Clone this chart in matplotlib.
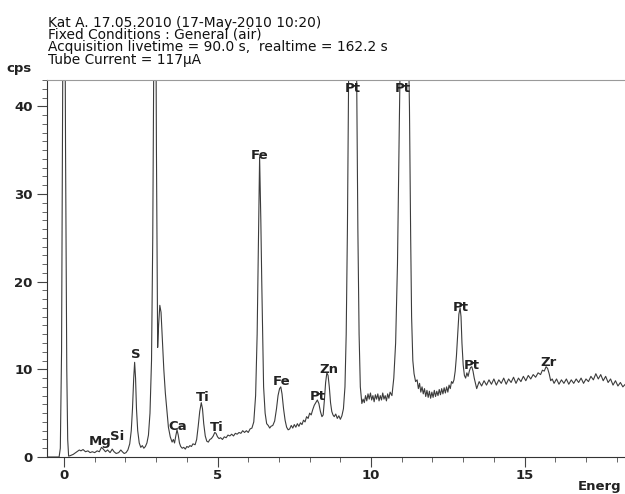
import matplotlib.pyplot as plt
from matplotlib.ticker import MultipleLocator

energy = [
    -0.55, -0.16, -0.12, -0.08, -0.05, 0.0, 0.05, 0.09, 0.12, 0.15,
    0.2, 0.3, 0.4, 0.5, 0.55, 0.62, 0.7, 0.78, 0.85, 0.92,
    1.0, 1.08, 1.15, 1.22, 1.28, 1.35, 1.42, 1.5, 1.57, 1.63,
    1.7, 1.78, 1.85, 1.9, 1.96, 2.02, 2.08,
    2.14, 2.19, 2.23, 2.27, 2.3, 2.33, 2.36, 2.4, 2.45, 2.5,
    2.55, 2.6, 2.65, 2.7,
    2.75, 2.8, 2.85, 2.89, 2.93, 2.97, 3.01, 3.05, 3.08, 3.12,
    3.16, 3.2, 3.25, 3.3, 3.35, 3.4, 3.46, 3.52,
    3.56, 3.6, 3.64, 3.68, 3.72, 3.76, 3.8, 3.85, 3.9, 3.95,
    4.0, 4.05, 4.1, 4.15, 4.2, 4.27, 4.32, 4.37, 4.42, 4.47,
    4.51, 4.55, 4.6, 4.65, 4.7, 4.75, 4.8, 4.86, 4.91, 4.95,
    5.0, 5.05, 5.1, 5.16, 5.22, 5.28, 5.34, 5.4, 5.46, 5.52,
    5.58, 5.64, 5.7, 5.76, 5.82, 5.88, 5.94, 6.0, 6.06, 6.12,
    6.18, 6.24, 6.29, 6.33, 6.37, 6.41, 6.44, 6.5, 6.55, 6.6,
    6.65, 6.7, 6.74, 6.8, 6.86, 6.92, 6.97, 7.02, 7.06, 7.1,
    7.15, 7.2, 7.25, 7.3, 7.35, 7.4, 7.45, 7.5, 7.55, 7.6,
    7.65, 7.7, 7.75, 7.8, 7.85, 7.9, 7.95, 8.0, 8.05, 8.1,
    8.15, 8.2, 8.25, 8.3, 8.35, 8.4, 8.44, 8.48, 8.52, 8.56,
    8.6, 8.64, 8.68, 8.72, 8.76, 8.8, 8.85, 8.9, 8.95, 9.0,
    9.05, 9.1, 9.15, 9.19, 9.23, 9.27, 9.33, 9.4, 9.47, 9.53,
    9.57, 9.61, 9.65, 9.7,
    9.74, 9.78, 9.82, 9.86, 9.9, 9.94, 9.98, 10.02, 10.06, 10.1,
    10.14, 10.18, 10.22, 10.26, 10.3, 10.34, 10.38, 10.42, 10.46, 10.5,
    10.54, 10.58, 10.62,
    10.68, 10.74, 10.8, 10.86, 10.92, 10.97, 11.07, 11.18, 11.25, 11.29,
    11.32, 11.36, 11.4, 11.45,
    11.5, 11.54, 11.58, 11.62, 11.66, 11.7, 11.74, 11.78, 11.82, 11.86,
    11.9, 11.94, 11.98, 12.02, 12.06, 12.1, 12.14, 12.18, 12.22, 12.26,
    12.3, 12.34, 12.38, 12.42, 12.46, 12.5, 12.54, 12.58, 12.62, 12.66,
    12.7, 12.74, 12.78, 12.82, 12.86, 12.9, 12.93, 12.96, 13.0, 13.04,
    13.08, 13.12, 13.16, 13.2, 13.24, 13.28, 13.32, 13.36, 13.4, 13.44,
    13.48,
    13.52, 13.6, 13.68, 13.76, 13.84, 13.92, 14.0, 14.08, 14.16, 14.24,
    14.32, 14.4, 14.48, 14.56, 14.64, 14.72, 14.8, 14.88, 14.96, 15.04,
    15.12, 15.2, 15.28, 15.36, 15.44, 15.52, 15.58, 15.64, 15.7, 15.75,
    15.8, 15.85, 15.9, 15.96, 16.04, 16.12, 16.2, 16.28, 16.36, 16.44,
    16.52, 16.6, 16.68, 16.76, 16.84, 16.92, 17.0, 17.08, 17.16, 17.24,
    17.32, 17.4, 17.48, 17.56, 17.64, 17.72, 17.8, 17.88, 17.96, 18.04,
    18.12, 18.2, 18.28,
]
cps = [
    0.0, 0.0, 1.0, 12, 35, 80, 35, 10, 2.0, 0.1,
    0.15, 0.3, 0.55, 0.8, 0.7, 0.85, 0.6, 0.7, 0.5, 0.6,
    0.5, 0.7, 0.6, 1.1, 0.9, 0.6, 0.8, 0.5, 0.9, 0.6,
    0.4, 0.5, 0.8, 0.6, 0.4, 0.5, 0.8,
    1.5, 3.0, 5.5, 9.0, 10.8, 9.0, 5.5, 3.0, 1.6, 1.1,
    1.3, 1.0, 1.2, 1.6,
    2.5, 5.0, 11, 25, 50, 70, 35, 12.5, 15, 17.3,
    16.5, 13.5, 10, 7.3, 5.3, 3.4, 2.3, 1.7,
    2.0, 1.6, 2.4, 3.1, 2.5, 1.6, 1.2, 1.0, 1.1, 0.9,
    1.2, 1.1, 1.3, 1.2, 1.5, 1.4, 2.0, 3.5, 5.2, 6.2,
    5.5, 3.8, 2.4, 1.8, 1.7, 2.0, 2.1, 2.4, 2.8, 2.7,
    2.3, 2.1, 2.2, 2.0, 2.3, 2.2, 2.5, 2.4, 2.6, 2.4,
    2.7, 2.6, 2.8, 2.7, 3.0, 2.8, 3.0, 2.8, 3.2, 3.3,
    4.0, 7.0, 14, 24, 34.2, 27, 20, 8.0, 5.0, 3.8,
    3.6, 3.3, 3.5, 3.6, 4.1, 5.5, 7.0, 7.8, 8.0, 7.2,
    5.5, 4.2, 3.4, 3.1, 3.2, 3.6, 3.3, 3.7, 3.4, 3.8,
    3.5, 3.9, 3.7, 4.2, 4.0, 4.6, 4.4, 5.0, 4.8, 5.4,
    5.9, 6.2, 6.5, 6.1, 5.2, 4.6, 4.8, 6.5, 8.5, 9.6,
    9.3, 8.0, 6.2, 5.2, 4.8, 4.6, 4.9, 4.4, 4.7, 4.3,
    4.7, 5.5, 8.0, 14, 26, 44, 70, 85, 70, 44,
    26, 14, 8.0, 6.1,
    6.6, 6.2, 7.0, 6.4, 7.2, 6.6, 7.3, 6.5, 7.0, 6.3,
    7.1, 6.6, 7.2, 6.4, 7.0, 6.5, 7.3, 6.6, 7.0, 6.4,
    7.2, 6.7, 7.4,
    7.0, 9.0, 13, 22, 38, 50, 85, 55, 40, 25,
    16, 11, 9.5, 8.6,
    8.8, 7.8, 8.4, 7.4, 8.0, 7.2, 7.8, 6.9, 7.6, 6.8,
    7.5, 6.7, 7.4, 6.8, 7.6, 6.9, 7.5, 7.0, 7.7, 7.1,
    7.8, 7.2, 7.9, 7.3, 8.0, 7.4, 8.2, 7.8, 8.6, 8.4,
    8.8, 9.8, 11.5, 14, 16.3, 17.0, 16, 13, 10.5, 9.3,
    9.0, 9.6, 9.2, 9.8, 10.2, 10.3, 9.8, 9.0, 8.4, 7.8,
    8.2,
    8.6, 8.1, 8.7, 8.2, 8.8, 8.3, 8.9, 8.2, 8.8, 8.4,
    9.0, 8.3, 8.9, 8.5, 9.1, 8.4, 9.0, 8.6, 9.2, 8.7,
    9.3, 8.9, 9.4, 9.1, 9.6, 9.4, 9.9, 9.8, 10.3, 10.1,
    9.5, 8.7, 8.9, 8.4, 8.9, 8.3, 8.8, 8.4, 8.9, 8.3,
    8.8, 8.4, 8.9, 8.5, 9.0, 8.4, 8.9, 8.6, 9.2, 8.8,
    9.5, 8.9, 9.4, 8.7, 9.2, 8.5, 8.9, 8.2, 8.7, 8.1,
    8.5, 8.0, 8.3,
]

# Peak-Beschriftungen
peak_names = ["Mg", "Si", "S", "Ca", "Ti", "Ti", "Fe", "Fe", "Pt", "Zn",
              "Pt", "Pt", "Pt", "Pt", "Zr"]
peak_energy = [1.17, 1.74, 2.35, 3.69, 4.53, 4.97, 6.38, 7.07, 8.26, 8.63,
               9.41, 11.04, 12.93, 13.27, 15.77]
peak_cps = [1.75, 2.3, 11.7, 3.5, 6.8, 3.35, 34.4, 8.6, 6.9, 10.0,
            42.0, 42.0, 17.0, 10.45, 10.75]

header = [
    "Kat A. 17.05.2010 (17-May-2010 10:20)",
    "Fixed Conditions : General (air)",
    "Acquisition livetime = 90.0 s,  realtime = 162.2 s",
    "Tube Current = 117\u00b5A",
]

W, H = 625, 494
fig = plt.figure(figsize=(W / 100, H / 100), dpi=100)
ax = fig.add_axes([47 / W, 37 / H, (W - 47) / W, 377 / H])

ax.plot(energy, cps, color='#3c3c3c', lw=0.8)
ax.set_xlim(-0.554, 18.27)
ax.set_ylim(0, 43.0)

ax.spines['right'].set_visible(False)
ax.spines['top'].set_color('#9a9a9a')
ax.spines['left'].set_color('#333333')
ax.spines['bottom'].set_color('#333333')

ax.xaxis.set_major_locator(MultipleLocator(5))
ax.xaxis.set_minor_locator(MultipleLocator(1))
ax.yaxis.set_major_locator(MultipleLocator(10))
ax.yaxis.set_minor_locator(MultipleLocator(1))
ax.tick_params(axis='both', which='major', length=7.2, width=0.8, color='#444444')
ax.tick_params(axis='both', which='minor', length=3.5, width=0.7, color='#666666')
ax.tick_params(axis='x', which='major', pad=1.5)
ax.tick_params(axis='y', which='major', pad=3)
for lab in ax.get_xticklabels() + ax.get_yticklabels():
    lab.set_fontsize(9.5)
    lab.set_fontweight('bold')
    lab.set_color('#222222')

for name, e, c in zip(peak_names, peak_energy, peak_cps):
    ax.text(e, c, name, ha='center', va='center', fontsize=9.5,
            fontweight='bold', color='#222222')

# Kopfzeilen als ein Textblock (enger Zeilenabstand wie im Ausdruck)
fig.text(48 / W, 1 - 15.5 / H, "\n".join(header), ha='left', va='top',
         fontsize=9.9, color='#111111', linespacing=0.86)

fig.text(32 / W, 1 - 72 / H, "cps", ha='right', va='baseline',
         fontsize=9.5, fontweight='bold', color='#222222')
fig.text(578 / W, 1 - 490 / H, "Energ", ha='left', va='baseline',
         fontsize=9.5, fontweight='bold', color='#222222')

fig.savefig('out.png', dpi=100)
